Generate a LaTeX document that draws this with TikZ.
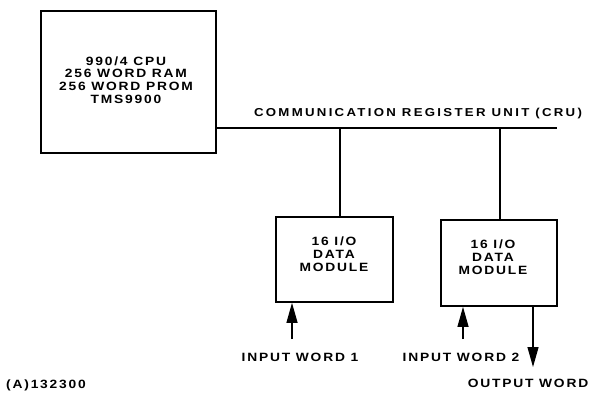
\documentclass[tikz,border=0pt]{standalone}
\usepackage{fontspec}
\usetikzlibrary{arrows.meta}
\newfontfamily\labfont[FakeStretch=1.15,LetterSpace=15]{Liberation Sans Bold}
\newfontfamily\crufont[FakeStretch=1.15,LetterSpace=20]{Liberation Sans Bold}
\begin{document}
\begin{tikzpicture}[x=1pt,y=-1pt,
  box/.style={draw,line width=1.7pt,inner sep=0pt},
  lab/.style={font=\labfont\fontsize{12}{12.8}\selectfont,align=center,inner sep=0pt},
  wire/.style={line width=1.1pt},
  arr/.style={line width=1.2pt,-{Triangle[length=20pt,width=11pt]}}]
\useasboundingbox (0,0) rectangle (593,399);
\node[box,minimum width=175pt,minimum height=142pt] (cpu) at (128.5,82) {};
\node[lab] (cputxt) at (126,80) {990/4 CPU\\256 WORD RAM\\256 WORD PROM\\TMS9900};
\node[box,minimum width=117pt,minimum height=85pt] (mod1) at (334.5,259.5) {};
\node[lab] (m1txt) at (334,254) {16 I/O\\DATA\\MODULE};
\node[box,minimum width=116pt,minimum height=86pt] (mod2) at (499,263) {};
\node[lab] (m2txt) at (493,257) {16 I/O\\DATA\\MODULE};
\coordinate (busend) at (557,128);
\draw[line width=1.5pt] (cpu.east |- busend) -- (busend);
\node[lab,font=\crufont\fontsize{11.5}{12}\selectfont] (cru) at (418,114) {COMMUNICATION REGISTER UNIT (CRU)};
\coordinate (t1) at (340,128);
\coordinate (t2) at (500,128);
\draw[wire] (t1) -- (t1 |- mod1.north);
\draw[wire] (t2) -- (t2 |- mod2.north);
\coordinate (in1) at (292,339);
\coordinate (in2) at (463,339);
\coordinate (out) at (533,367);
\draw[arr] (in1) -- (in1 |- mod1.south);
\draw[arr] (in2) -- (in2 |- mod2.south);
\draw[arr] (out |- mod2.south) -- (out);
\node[lab] (l1) at (300,357) {INPUT WORD 1};
\node[lab] (l2) at (461,357.5) {INPUT WORD 2};
\node[lab] (l3) at (528,383) {OUTPUT WORD};
\node[lab,anchor=west] (code) at (6,385.5) {(A)132300};
\end{tikzpicture}
\end{document}
